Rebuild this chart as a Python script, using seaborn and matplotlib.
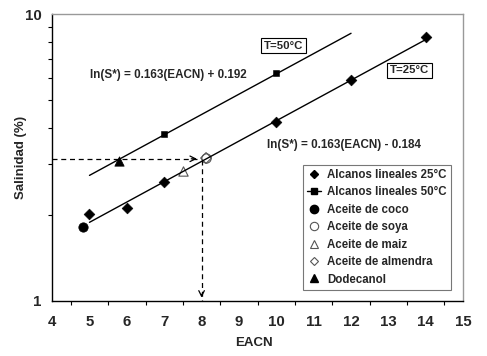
import matplotlib
matplotlib.use("Agg")
import matplotlib.pyplot as plt
import seaborn as sns
from matplotlib.lines import Line2D
from matplotlib.ticker import LogLocator, NullFormatter, FixedLocator, FixedFormatter, MultipleLocator

sns.set_style("white")
plt.rcParams['font.family'] = ['Liberation Sans', 'DejaVu Sans']
plt.rcParams['font.weight'] = 'bold'

# Data
alc25_x = [5, 6, 7, 10, 12, 14]
alc25_y = [2.01, 2.11, 2.60, 4.2, 5.9, 8.35]
alc50_x = [7, 10]
alc50_y = [3.82, 6.22]
coco_x = [4.84]; coco_y = [1.81]
soya_x = [8.12]; soya_y = [3.15]
maiz_x = [7.49]; maiz_y = [2.83]
almendra_x = [8.12]; almendra_y = [3.15]
dodecanol_x = [5.8]; dodecanol_y = [3.07]
fit25_x = [5, 14]; fit25_y = [1.88, 8.15]
fit50_x = [5, 12]; fit50_y = [2.74, 8.57]
guide_h_x = [4.0, 7.95]; guide_h_y = [3.13, 3.13]
guide_v_x = [8.0, 8.0]; guide_v_y = [3.1, 1.0]
x_ticks = [4, 5, 6, 7, 8, 9, 10, 11, 12, 13, 14, 15]

fig = plt.figure(figsize=(4.87, 3.56), dpi=100)
ax = fig.add_axes([0.107, 0.1545, 0.844, 0.806])

sns.lineplot(x=fit25_x, y=fit25_y, ax=ax, color='black', lw=1.0)
sns.lineplot(x=fit50_x, y=fit50_y, ax=ax, color='black', lw=1.0)
ax.plot(guide_h_x, guide_h_y, ls=(0, (4, 3)), color='black', lw=0.9)
ax.annotate('', xy=(guide_h_x[1], guide_h_y[1]), xytext=(guide_h_x[1]-0.3, guide_h_y[1]),
            arrowprops=dict(arrowstyle='->', color='black', lw=0.9))
ax.plot(guide_v_x, guide_v_y, ls=(0, (4, 3)), color='black', lw=0.9)
ax.annotate('', xy=(guide_v_x[1], 1.005), xytext=(guide_v_x[1], 1.08),
            arrowprops=dict(arrowstyle='->', color='black', lw=0.9))

sns.scatterplot(x=alc25_x, y=alc25_y, ax=ax, marker='D', s=30, color='black', edgecolor='black')
sns.scatterplot(x=alc50_x, y=alc50_y, ax=ax, marker='s', s=25, color='black', edgecolor='black')
sns.scatterplot(x=coco_x, y=coco_y, ax=ax, marker='o', s=45, color='black', edgecolor='black')
sns.scatterplot(x=soya_x, y=soya_y, ax=ax, marker='o', s=45, facecolor='white', edgecolor='#555555', linewidth=0.8)
sns.scatterplot(x=maiz_x, y=maiz_y, ax=ax, marker='^', s=45, facecolor='white', edgecolor='#555555', linewidth=0.8)
sns.scatterplot(x=almendra_x, y=almendra_y, ax=ax, marker='D', s=30, facecolor='none', edgecolor='#555555', linewidth=0.8)
sns.scatterplot(x=dodecanol_x, y=dodecanol_y, ax=ax, marker='^', s=45, color='black', edgecolor='black')

ax.set_yscale('log')
ax.set_xlim(4, 15)
ax.set_ylim(1, 10)
ax.yaxis.set_major_locator(FixedLocator([1, 10]))
ax.yaxis.set_major_formatter(FixedFormatter(['1', '10']))
ax.yaxis.set_minor_locator(LogLocator(base=10, subs=range(2, 10)))
ax.yaxis.set_minor_formatter(NullFormatter())
ax.set_xticks(x_ticks)
ax.set_xticklabels([str(t) for t in x_ticks])
ax.xaxis.set_minor_locator(MultipleLocator(0.5))
ax.tick_params(axis='both', which='both', direction='out', color='black', width=0.8)
ax.tick_params(axis='both', which='major', length=4, labelsize=10.8)
ax.tick_params(axis='both', which='minor', length=3)
ax.tick_params(axis='y', which='minor', left=True)
ax.tick_params(axis='x', which='minor', bottom=True)
ax.tick_params(axis='x', pad=6)
for lab in ax.get_xticklabels() + ax.get_yticklabels():
    lab.set_fontweight('bold')

for side in ['top', 'right']:
    ax.spines[side].set_color('#999999')
    ax.spines[side].set_linewidth(1.0)
for side in ['left', 'bottom']:
    ax.spines[side].set_color('black')
    ax.spines[side].set_linewidth(1.0)

ax.set_xlabel('EACN', fontsize=9.5, fontweight='bold')
ax.set_ylabel('Salinidad (%)', fontsize=9.5, fontweight='bold')
ax.xaxis.set_label_coords(0.49, -0.125)
ax.yaxis.set_label_coords(-0.061, 0.5)

ax.text(5.02, 6.13, 'ln(S*) = 0.163(EACN) + 0.192', fontsize=8.4, fontweight='bold', va='center', ha='left')
ax.text(9.75, 3.5, 'ln(S*) = 0.163(EACN) - 0.184', fontsize=8.4, fontweight='bold', va='center', ha='left')
ax.text(10.19, 7.77, 'T=50°C', fontsize=8.2, fontweight='bold', va='center', ha='center',
        bbox=dict(boxstyle='square,pad=0.25', fc='white', ec='black', lw=0.8))
ax.text(13.57, 6.36, 'T=25°C', fontsize=8.2, fontweight='bold', va='center', ha='center',
        bbox=dict(boxstyle='square,pad=0.25', fc='white', ec='black', lw=0.8))

handles = [
    Line2D([], [], ls='none', marker='D', ms=4, color='black'),
    Line2D([], [], ls='-', lw=1, marker='s', ms=4, color='black'),
    Line2D([], [], ls='none', marker='o', ms=6, color='black'),
    Line2D([], [], ls='none', marker='o', ms=6, mfc='white', mec='#555555', mew=0.8),
    Line2D([], [], ls='none', marker='^', ms=6, mfc='white', mec='#555555', mew=0.8),
    Line2D([], [], ls='none', marker='D', ms=4.5, mfc='white', mec='#555555', mew=0.8),
    Line2D([], [], ls='none', marker='^', ms=6, color='black'),
]
labels = ['Alcanos lineales 25°C', 'Alcanos lineales 50°C', 'Aceite de coco', 'Aceite de soya',
          'Aceite de maiz', 'Aceite de almendra', 'Dodecanol']
leg = ax.legend(handles, labels, loc='upper left', bbox_to_anchor=(0.611, 0.474), fontsize=8.3,
                frameon=True, fancybox=False, edgecolor='#555555', handlelength=1.2,
                handletextpad=0.5, labelspacing=0.47, borderpad=0.35, borderaxespad=0)
leg.get_frame().set_linewidth(0.8)
for t in leg.get_texts():
    t.set_fontweight('bold')

fig.savefig('out.png', dpi=100)
